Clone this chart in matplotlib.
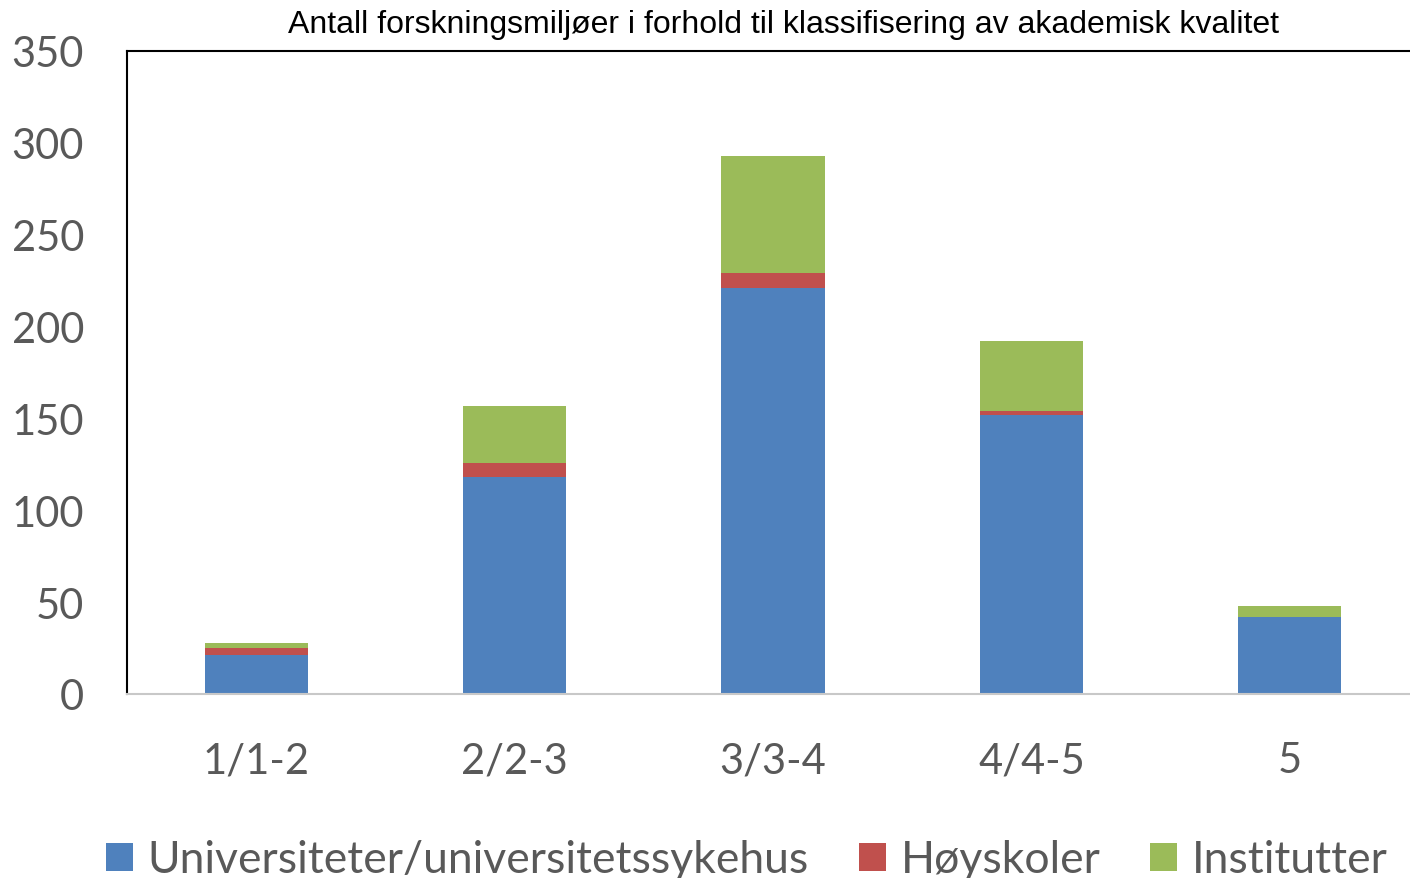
import matplotlib
matplotlib.use("Agg")
import matplotlib.pyplot as plt
from matplotlib.patches import Patch
import numpy as np

categories = ["1/1-2", "2/2-3", "3/3-4", "4/4-5", "5"]
universiteter = [21, 118, 221, 152, 42]
hoyskoler = [4, 8, 8, 2, 0]
institutter = [3, 31, 64, 38, 6]
series_names = ["Universiteter/universitetssykehus", "Høyskoler", "Institutter"]
colors = ["#4F81BD", "#C0504D", "#9BBB59"]
yticks = [0, 50, 100, 150, 200, 250, 300, 350]
title = "Antall forskningsmiljøer i forhold til klassifisering av akademisk kvalitet"

W, H = 1410, 879
fig = plt.figure(figsize=(W / 100, H / 100), dpi=100)
ax = fig.add_axes([127 / W, 184 / H, (1419 - 127) / W, (694 - 51) / H])

x = np.arange(len(categories))
u = np.array(universiteter)
h = np.array(hoyskoler)
i = np.array(institutter)
bw = 0.4
ax.bar(x, u, bw, color=colors[0], edgecolor="none")
ax.bar(x, h, bw, bottom=u, color=colors[1], edgecolor="none")
ax.bar(x, i, bw, bottom=u + h, color=colors[2], edgecolor="none")

ax.set_xlim(-0.5, len(categories) - 0.5)
ax.set_ylim(0, 350)
ax.set_yticks(yticks)
ax.set_yticklabels([str(t) for t in yticks])
ax.set_xticks(x)
ax.set_xticklabels(categories)

for lab in ax.get_xticklabels() + ax.get_yticklabels():
    lab.set_fontfamily("Lato")
    lab.set_fontsize(30)
    lab.set_color("#595959")
ax.tick_params(axis="both", length=0)
ax.tick_params(axis="y", pad=31)
ax.tick_params(axis="x", pad=34)

ax.spines["left"].set_color("black")
ax.spines["left"].set_linewidth(1.5)
ax.spines["top"].set_color("black")
ax.spines["top"].set_linewidth(1.5)
ax.spines["right"].set_visible(False)
ax.spines["bottom"].set_color("#C8C8C8")
ax.spines["bottom"].set_linewidth(1.5)

fig.text(783 / W, 1 - 25 / H, title, ha="center", va="center",
         family="Liberation Sans", fontsize=23, color="black")

handles = [Patch(facecolor=c, edgecolor="none") for c in colors]
leg = fig.legend(handles, series_names, loc="center", ncol=3,
                 bbox_to_anchor=(747 / W, 1 - 861 / H), frameon=False,
                 prop=dict(family="Lato", size=32),
                 handlelength=0.6, handleheight=0.6, handletextpad=0.34,
                 columnspacing=1.12, borderpad=0, borderaxespad=0)
for t in leg.get_texts():
    t.set_color("#595959")

fig.savefig("out.png", dpi=100)
